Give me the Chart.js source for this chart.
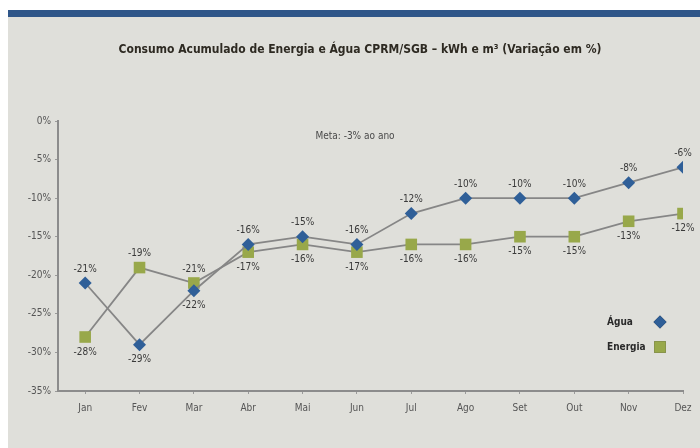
<!DOCTYPE html>
<html>
<head>
<meta charset="utf-8">
<script src="https://cdn.jsdelivr.net/npm/chart.js@4/dist/chart.umd.min.js"></script>
<style>
  html, body { margin: 0; padding: 0; background: #fff; }
  body { width: 700px; height: 448px; position: relative; overflow: hidden; }
  #bar { position: absolute; left: 8px; top: 10px; width: 692px; height: 7px; background: #2f5689; }
  #panel { position: absolute; left: 8px; top: 17px; width: 692px; height: 431px; background: #dfdfda; }
</style>
</head>
<body>
<div id="bar"></div>
<div id="panel"><canvas id="chart" width="692" height="431"></canvas></div>
<script>
const months = ['Jan', 'Fev', 'Mar', 'Abr', 'Mai', 'Jun', 'Jul', 'Ago', 'Set', 'Out', 'Nov', 'Dez'];
const agua = [-21, -29, -22, -16, -15, -16, -12, -10, -10, -10, -8, -6];
const energia = [-28, -19, -21, -17, -16, -17, -16, -16, -15, -15, -13, -12];
const yTicks = [0, -5, -10, -15, -20, -25, -30, -35];

const FONT = '"Liberation Sans Narrow", "DejaVu Sans Condensed", "Arial Narrow", sans-serif';
const BLUE = '#2f5f98';
const GREEN = '#98a84a';
const TITLE = 'Consumo Acumulado de Energia e Água CPRM/SGB – kWh e m³ (Variação em %)';

// labels above/below each point, whichever side is away from the other series
const pointLabels = {
    id: 'pointLabels',
    afterDatasetsDraw(chart) {
        const ctx = chart.ctx;
        ctx.save();
        ctx.font = '10px ' + FONT;
        ctx.fillStyle = '#3a3a3a';
        ctx.textAlign = 'center';
        ctx.textBaseline = 'middle';
        chart.data.datasets.forEach((ds, di) => {
            const other = chart.data.datasets[1 - di].raw;
            chart.getDatasetMeta(di).data.forEach((pt, i) => {
                const v = ds.raw[i];
                const up = v >= other[i];
                ctx.fillText(v + '%', pt.x, pt.y + (up ? -14 : 15));
            });
        });
        ctx.restore();
    }
};

// title, meta note and legend (text left of marker)
const extras = {
    id: 'extras',
    afterDraw(chart) {
        const ctx = chart.ctx;
        ctx.save();
        ctx.textBaseline = 'middle';
        ctx.textAlign = 'center';
        ctx.font = 'bold 12px ' + FONT;
        ctx.fillStyle = '#2e2a22';
        ctx.fillText(TITLE, 352, 33);

        ctx.font = '10px ' + FONT;
        ctx.fillStyle = '#4a4a4a';
        ctx.fillText('Meta: -3% ao ano', 347, 119);

        ctx.font = 'bold 10px ' + FONT;
        ctx.textAlign = 'left';
        const items = [[0, 305], [1, 330]];
        items.forEach(([di, y]) => {
            const ds = chart.data.datasets[di];
            ctx.fillStyle = '#2a2a2a';
            ctx.fillText(ds.label, 599, y);
            Chart.helpers.drawPoint(ctx, {
                pointStyle: ds.pointStyle, radius: ds.pointRadius, borderWidth: 0
            }, 652, y);
            ctx.fillStyle = ds.pointBackgroundColor;
            ctx.fill();
        });
        ctx.restore();
    }
};

new Chart(document.getElementById('chart'), {
    type: 'line',
    data: {
        datasets: [
            {
                label: 'Água',
                raw: agua,
                data: agua.map((v, i) => ({ x: i, y: v })),
                borderColor: '#868686',
                borderWidth: 1.8,
                pointStyle: 'rectRot',
                pointRadius: 6.5,
                pointBackgroundColor: BLUE,
                pointBorderWidth: 0,
                fill: false
            },
            {
                label: 'Energia',
                raw: energia,
                data: energia.map((v, i) => ({ x: i, y: v })),
                borderColor: '#868686',
                borderWidth: 1.8,
                pointStyle: 'rect',
                pointRadius: 8.2,
                pointBackgroundColor: GREEN,
                pointBorderWidth: 0,
                fill: false
            }
        ]
    },
    options: {
        responsive: false,
        animation: false,
        layout: { padding: { left: 0, right: 17, top: 104, bottom: 0 } },
        plugins: {
            legend: { display: false },
            tooltip: { enabled: false },
            title: { display: false }
        },
        scales: {
            x: {
                type: 'linear',
                min: -0.5,
                max: 11,
                bounds: 'data',
                afterBuildTicks: (scale) => { scale.ticks = months.map((m, i) => ({ value: i })); },
                afterFit: (scale) => { scale.height = 57; scale.paddingLeft = 0; scale.paddingRight = 0; },
                ticks: {
                    callback: (v) => months[v],
                    color: '#555',
                    font: { family: FONT, size: 10 },
                    padding: 8,
                    maxRotation: 0
                },
                grid: { drawOnChartArea: false, drawTicks: true, tickLength: 3, color: '#9a9a9a' },
                border: { display: true, color: '#8c8c8c', width: 2 }
            },
            y: {
                min: -35,
                max: 0,
                afterBuildTicks: (scale) => { scale.ticks = yTicks.map(v => ({ value: v })); },
                afterFit: (scale) => { scale.width = 50; scale.paddingTop = 0; scale.paddingBottom = 0; },
                ticks: {
                    callback: (v) => v + '%',
                    color: '#555',
                    font: { family: FONT, size: 10 },
                    padding: 4
                },
                grid: { drawOnChartArea: false, drawTicks: true, tickLength: 3, color: '#9a9a9a' },
                border: { display: true, color: '#8c8c8c', width: 2 }
            }
        }
    },
    plugins: [pointLabels, extras]
});
</script>
</body>
</html>
